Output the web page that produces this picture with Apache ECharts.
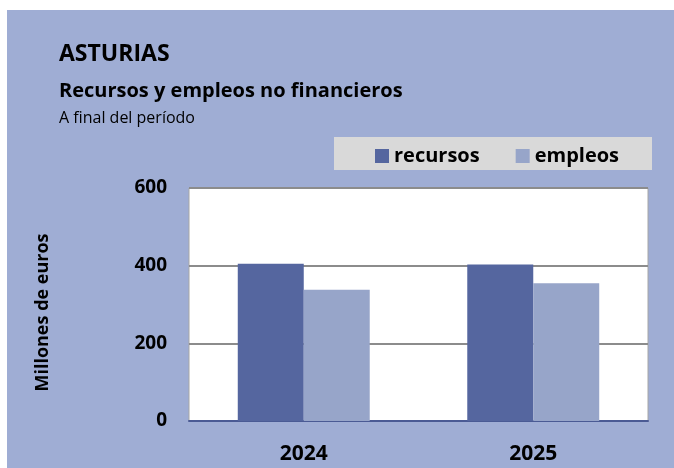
<!DOCTYPE html>
<html><head><meta charset="utf-8">
<script src="https://cdn.jsdelivr.net/npm/echarts@6/dist/echarts.min.js"></script>
<style>html,body{margin:0;padding:0;background:#fff}#c{width:674px;height:468px}</style>
</head><body><div id="c"></div>
<script>
const categories = ['2024', '2025'];
const recursos = [405, 403];
const empleos = [338, 355];
const yTicks = [0, 200, 400, 600];

const F = '"Open Sans", "Noto Sans", sans-serif';
const chart = echarts.init(document.getElementById('c'), null, {renderer: 'canvas'});
chart.setOption({
  backgroundColor: '#ffffff',
  animation: false,
  graphic: [
    {type: 'rect', z: -10, shape: {x: 7, y: 10, width: 667, height: 458}, style: {fill: '#9fadd4'}},
    {type: 'rect', z: -5, shape: {x: 334, y: 137, width: 318, height: 33}, style: {fill: '#d9d9d9'}},
    {type: 'text', left: 59, top: 43, style: {text: 'ASTURIAS', font: 'bold 23px ' + F, fill: '#000'}},
    {type: 'text', left: 59, top: 81, style: {text: 'Recursos y empleos no financieros', font: 'bold 20px ' + F, fill: '#000'}},
    {type: 'text', left: 59, top: 110, style: {text: 'A final del período', font: '16px ' + F, fill: '#000'}}
  ],
  legend: {
    data: ['recursos', 'empleos'],
    left: 370, top: 141,
    itemWidth: 14, itemHeight: 14, itemGap: 36,
    icon: 'rect',
    textStyle: {fontFamily: F, fontWeight: 'bold', fontSize: 20, color: '#000'}
  },
  grid: {left: 189, right: 26, top: 188, bottom: 47, show: true, backgroundColor: '#ffffff', borderColor: '#a6a6a6', borderWidth: 1},
  xAxis: {
    type: 'category', data: categories,
    axisLine: {lineStyle: {color: '#4a5a94', width: 2}},
    axisTick: {show: false},
    axisLabel: {fontFamily: F, fontWeight: 'bold', fontSize: 21, color: '#000', margin: 23}
  },
  yAxis: {
    type: 'value', min: 0, max: 600, interval: 200,
    name: 'Millones de euros', nameLocation: 'middle', nameGap: 137, nameRotate: 90,
    nameTextStyle: {fontFamily: F, fontWeight: 'bold', fontSize: 18, color: '#000', padding: [0, 16, 0, 0]},
    axisLine: {show: false}, axisTick: {show: false},
    axisLabel: {fontFamily: F, fontWeight: 'bold', fontSize: 19, color: '#000', margin: 22,
      formatter: v => yTicks.includes(v) ? String(v) : ''},
    splitLine: {lineStyle: {color: '#8c8c8c', width: 2}}
  },
  series: [
    {name: 'recursos', type: 'bar', data: recursos, barGap: '0%', barCategoryGap: '42.5%',
     itemStyle: {color: '#55669f'}},
    {name: 'empleos', type: 'bar', data: empleos,
     itemStyle: {color: '#97a5c9'}}
  ]
});
</script></body></html>
